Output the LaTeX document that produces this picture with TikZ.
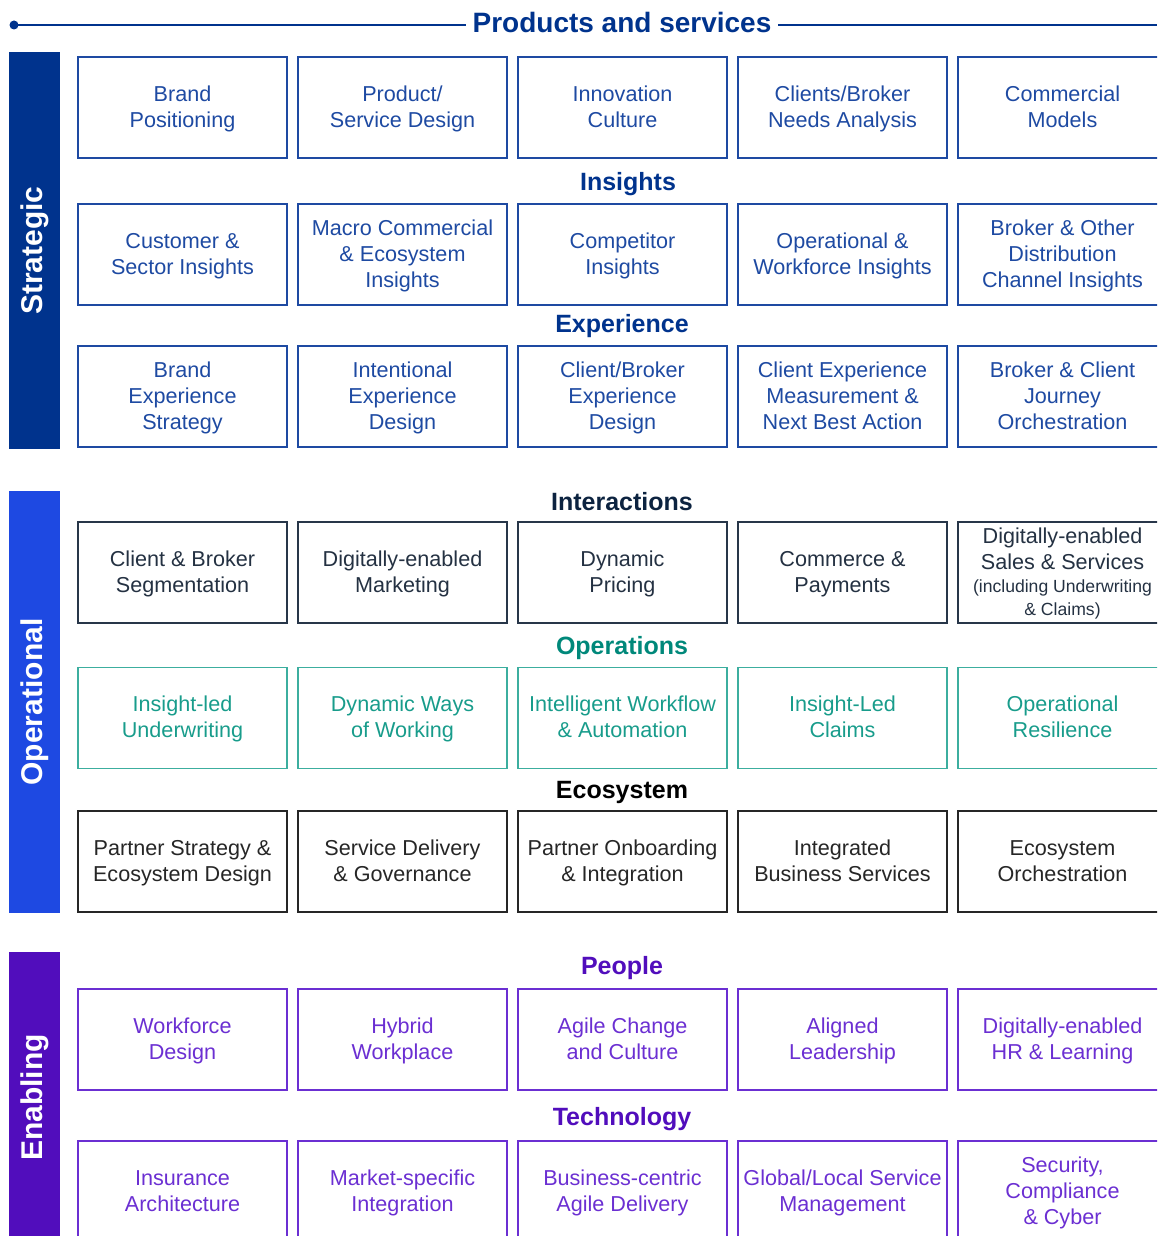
\documentclass[tikz,border=0pt]{standalone}
\usepackage{fontspec}
\setmainfont{Liberation Sans}
\definecolor{stratbar}{HTML}{00338D}
\definecolor{stratline}{HTML}{1E4AA2}
\definecolor{opbar}{HTML}{1E49E2}
\definecolor{interhead}{HTML}{0C2340}
\definecolor{interline}{HTML}{283649}
\definecolor{opshead}{HTML}{00887A}
\definecolor{opsline}{HTML}{3CAE9F}
\definecolor{opstext}{HTML}{189C8B}
\definecolor{enabar}{HTML}{510DBC}
\definecolor{enaline}{HTML}{6B2FD2}
\begin{document}
\begin{tikzpicture}[x=0.5pt,y=-0.5pt,
    cell/.style={draw,line width=0.8pt,minimum width=104.5pt,minimum height=50.5pt,
      inner sep=0pt,align=center,font=\fontsize{10.8}{13}\selectfont,text depth=0.9pt},
    strat/.style={cell,draw=stratline,text=stratline},
    inter/.style={cell,draw=interline,text=interline!90!black},
    ops/.style={cell,draw=opsline,text=opstext},
    eco/.style={cell,draw=black!85,text=black!85},
    ena/.style={cell,draw=enaline,text=enaline},
    head/.style={font=\fontsize{12.5}{15}\bfseries\selectfont},
    bar/.style={rotate=90,minimum height=25.5pt,inner sep=0pt,text=white,
      font=\fontsize{15}{18}\bfseries\selectfont}]
  \useasboundingbox (0,0) rectangle (1157,1236);
  \clip (0,0) rectangle (1157,1236);

  \coordinate (dot) at (14,25);
  \coordinate (edge) at (1157,25);
  \fill[stratbar] (dot) circle (4.5);
  \node[head,text=stratbar,font=\fontsize{14}{17}\bfseries\selectfont] (title) at (622,22) {Products and services};
  \draw[stratbar,line width=0.7pt] (dot) -- (title.west |- dot);
  \draw[stratbar,line width=0.7pt] (title.east |- edge) -- (edge);

  \node[bar,fill=stratbar,minimum width=198.5pt] (strategic) at (34.5,250.5) {Strategic};
  \node[bar,fill=opbar,minimum width=211pt] (operational) at (34.5,702) {Operational};
  \node[bar,fill=enabar,minimum width=145.5pt] (enabling) at (34.5,1097.5) {Enabling};

  \node[strat] (brandpos) at (182.5,107.5) {Brand\\Positioning};
  \node[strat] (servdesign) at (402.5,107.5) {Product/\\Service Design};
  \node[strat] (innovation) at (622.5,107.5) {Innovation\\Culture};
  \node[strat] (needs) at (842.5,107.5) {Clients/Broker\\Needs Analysis};
  \node[strat] (commercial) at (1062.5,107.5) {Commercial\\Models};

  \node[head,text=stratbar] (insights) at (628,184) {Insights};
  \node[strat] (customer) at (182.5,254.5) {Customer \&\\Sector Insights};
  \node[strat] (macro) at (402.5,254.5) {Macro Commercial\\\& Ecosystem\\Insights};
  \node[strat] (competitor) at (622.5,254.5) {Competitor\\Insights};
  \node[strat] (workforce) at (842.5,254.5) {Operational \&\\Workforce Insights};
  \node[strat] (channel) at (1062.5,254.5) {Broker \& Other\\Distribution\\Channel Insights};

  \node[head,text=stratbar] (experience) at (622,326) {Experience};
  \node[strat] (brandexp) at (182.5,396.5) {Brand\\Experience\\Strategy};
  \node[strat] (intentional) at (402.5,396.5) {Intentional\\Experience\\Design};
  \node[strat] (cbexp) at (622.5,396.5) {Client/Broker\\Experience\\Design};
  \node[strat] (measure) at (842.5,396.5) {Client Experience\\Measurement \&\\Next Best Action};
  \node[strat] (journey) at (1062.5,396.5) {Broker \& Client\\Journey\\Orchestration};

  \node[head,text=interhead] (interactions) at (622,502) {Interactions};
  \node[inter] (segment) at (182.5,572.5) {Client \& Broker\\Segmentation};
  \node[inter] (marketing) at (402.5,572.5) {Digitally-enabled\\Marketing};
  \node[inter] (pricing) at (622.5,572.5) {Dynamic\\Pricing};
  \node[inter] (payments) at (842.5,572.5) {Commerce \&\\Payments};
  \node[inter] (sales) at (1062.5,572.5) {Digitally-enabled\\Sales \& Services\\[-1.5pt]
    {\fontsize{8.8}{11.5}\selectfont (including Underwriting}\\[-1.5pt]{\fontsize{8.8}{11.5}\selectfont \& Claims)}};

  \node[head,text=opshead] (operations) at (622,648) {Operations};
  \node[ops] (underwriting) at (182.5,718) {Insight-led\\Underwriting};
  \node[ops] (ways) at (402.5,718) {Dynamic Ways\\of Working};
  \node[ops] (automation) at (622.5,718) {Intelligent Workflow\\\& Automation};
  \node[ops] (claims) at (842.5,718) {Insight-Led\\Claims};
  \node[ops] (resilience) at (1062.5,718) {Operational\\Resilience};

  \node[head,text=black] (ecosystem) at (622,792) {Ecosystem};
  \node[eco] (partner) at (182.5,861.5) {Partner Strategy \&\\Ecosystem Design};
  \node[eco] (delivery) at (402.5,861.5) {Service Delivery\\\& Governance};
  \node[eco] (onboarding) at (622.5,861.5) {Partner Onboarding\\\& Integration};
  \node[eco] (business) at (842.5,861.5) {Integrated\\Business Services};
  \node[eco] (orchestration) at (1062.5,861.5) {Ecosystem\\Orchestration};

  \node[head,text=enabar] (people) at (622,968) {People};
  \node[ena] (wfdesign) at (182.5,1039.5) {Workforce\\Design};
  \node[ena] (hybrid) at (402.5,1039.5) {Hybrid\\Workplace};
  \node[ena] (agile) at (622.5,1039.5) {Agile Change\\and Culture};
  \node[ena] (leadership) at (842.5,1039.5) {Aligned\\Leadership};
  \node[ena] (hr) at (1062.5,1039.5) {Digitally-enabled\\HR \& Learning};

  \node[head,text=enabar] (technology) at (622,1119) {Technology};
  \node[ena] (architecture) at (182.5,1191.5) {Insurance\\Architecture};
  \node[ena] (integration) at (402.5,1191.5) {Market-specific\\Integration};
  \node[ena] (agiledel) at (622.5,1191.5) {Business-centric\\Agile Delivery};
  \node[ena] (service) at (842.5,1191.5) {Global/Local Service\\Management};
  \node[ena] (security) at (1062.5,1191.5) {Security,\\Compliance\\\& Cyber};
\end{tikzpicture}
\end{document}
